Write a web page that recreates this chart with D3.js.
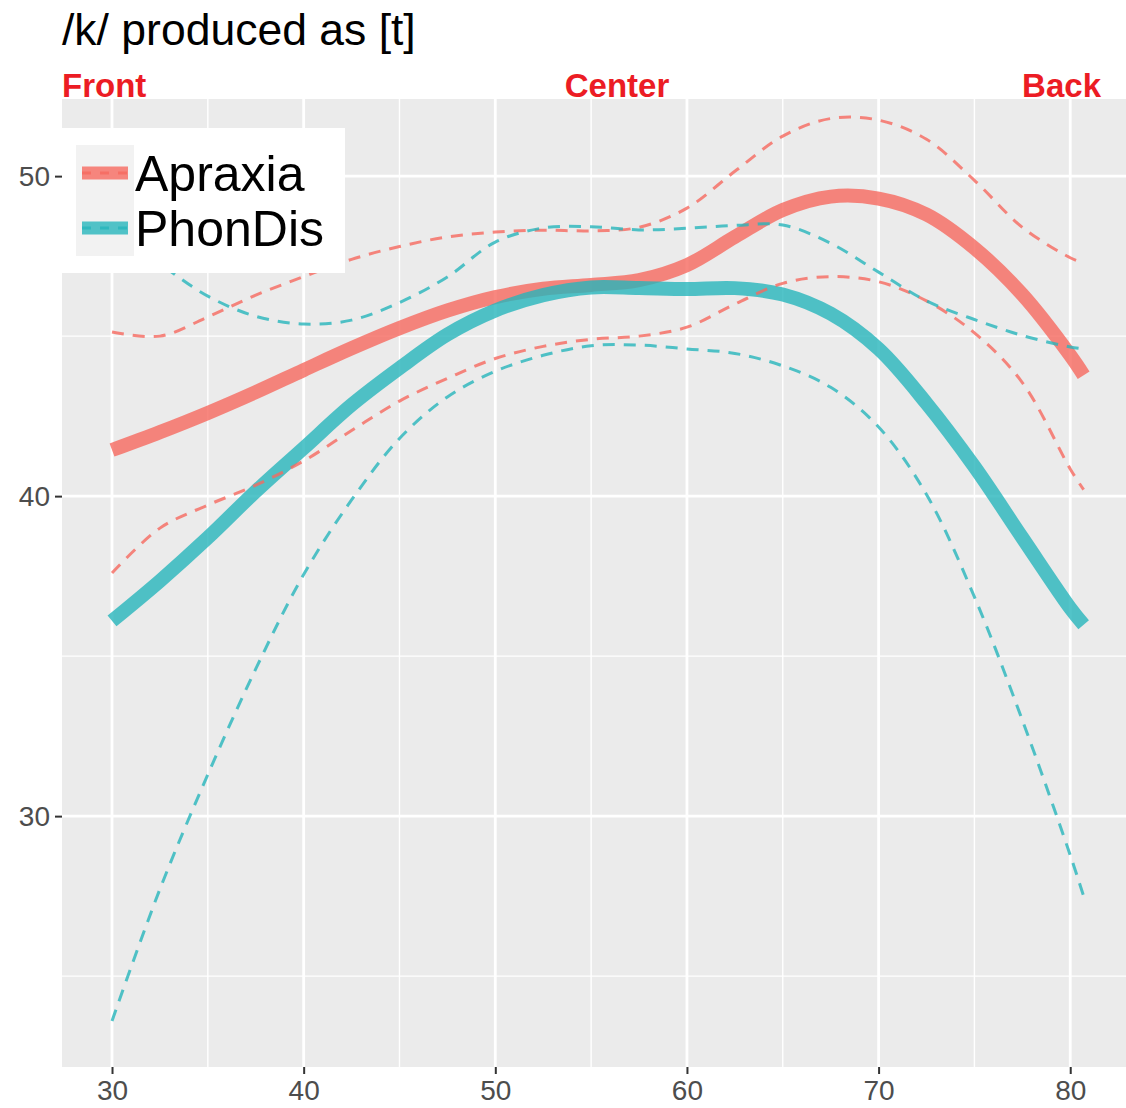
<!DOCTYPE html>
<html>
<head>
<meta charset="utf-8">
<script src="https://cdn.jsdelivr.net/npm/d3@7"></script>
<style>
  html, body { margin: 0; padding: 0; background: #ffffff; }
  svg { display: block; }
</style>
</head>
<body>
<svg id="chart" width="1126" height="1108"></svg>
<script>
// ---------- data ----------
const xs = [30, 32.5, 35, 37.5, 40, 42.5, 45, 47.5, 50, 52.5, 55, 57.5, 60, 62.5, 65, 67.5, 70, 72.5, 75, 77.5, 80, 80.7];

const apraxiaFit   = [41.44, 42.0, 42.6, 43.25, 43.94, 44.62, 45.25, 45.8, 46.22, 46.48, 46.6, 46.75, 47.22, 48.1, 48.94, 49.36, 49.3, 48.8, 47.75, 46.3, 44.4, 43.78];
const apraxiaUpper = [45.13, 45.0, 45.6, 46.28, 46.86, 47.4, 47.8, 48.1, 48.25, 48.31, 48.29, 48.4, 49.0, 50.15, 51.25, 51.8, 51.75, 51.15, 49.87, 48.4, 47.45, 47.28];
const apraxiaLower = [37.6, 39.0, 39.72, 40.34, 41.1, 42.05, 42.97, 43.68, 44.3, 44.68, 44.9, 45.0, 45.28, 46.0, 46.65, 46.86, 46.7, 46.1, 45.1, 43.55, 40.85, 40.2];

const phonFit   = [36.1, 37.35, 38.7, 40.15, 41.5, 42.85, 44.0, 45.05, 45.8, 46.28, 46.52, 46.5, 46.47, 46.5, 46.3, 45.7, 44.6, 42.9, 40.92, 38.7, 36.5, 35.98];
const phonUpper = [48.2, 47.25, 46.25, 45.62, 45.38, 45.5, 46.05, 46.85, 47.94, 48.38, 48.42, 48.32, 48.37, 48.46, 48.47, 47.9, 47.0, 46.1, 45.52, 45.02, 44.66, 44.6];
const phonLower = [23.6, 27.72, 31.3, 34.6, 37.55, 39.88, 41.8, 43.1, 43.9, 44.4, 44.7, 44.72, 44.6, 44.46, 44.07, 43.4, 42.16, 40.05, 36.85, 33.0, 28.78, 27.5];

const groups = ["Apraxia", "PhonDis"];
const groupColors = ["#F6695F", "#27B5BB"];
const xTicks = [30, 40, 50, 60, 70, 80];
const xMinor = [35, 45, 55, 65, 75];
const yTicks = [30, 40, 50];
const yMinor = [25, 35, 45];
const title = "/k/ produced as [t]";
const regionLabels = ["Front", "Center", "Back"];

// ---------- layout ----------
const svg = d3.select("#chart");
const panel = { left: 62, right: 1126, top: 99, bottom: 1067 };

const x = d3.scaleLinear().domain([27.39, 82.91]).range([panel.left, panel.right]);
const y = d3.scaleLinear().domain([22.16, 52.41]).range([panel.bottom, panel.top]);

// panel background
svg.append("rect")
  .attr("x", panel.left).attr("y", panel.top)
  .attr("width", panel.right - panel.left).attr("height", panel.bottom - panel.top)
  .attr("fill", "#EBEBEB");

// grid
const grid = svg.append("g");
grid.selectAll(".ymin").data(yMinor).join("line")
  .attr("x1", panel.left).attr("x2", panel.right)
  .attr("y1", d => y(d)).attr("y2", d => y(d))
  .attr("stroke", "#fff").attr("stroke-width", 1.4);
grid.selectAll(".xmin").data(xMinor).join("line")
  .attr("y1", panel.top).attr("y2", panel.bottom)
  .attr("x1", d => x(d)).attr("x2", d => x(d))
  .attr("stroke", "#fff").attr("stroke-width", 1.4);
grid.selectAll(".ymaj").data(yTicks).join("line")
  .attr("x1", panel.left).attr("x2", panel.right)
  .attr("y1", d => y(d)).attr("y2", d => y(d))
  .attr("stroke", "#fff").attr("stroke-width", 2.8);
grid.selectAll(".xmaj").data(xTicks).join("line")
  .attr("y1", panel.top).attr("y2", panel.bottom)
  .attr("x1", d => x(d)).attr("x2", d => x(d))
  .attr("stroke", "#fff").attr("stroke-width", 2.8);

// axes
const font = "'Liberation Sans', Arial, Helvetica, sans-serif";
const xAxis = svg.append("g")
  .attr("transform", `translate(0,${panel.bottom})`)
  .call(d3.axisBottom(x).tickValues(xTicks).tickSize(7).tickPadding(6).tickFormat(d3.format("d")));
xAxis.select(".domain").remove();
xAxis.selectAll("line").attr("stroke", "#333").attr("stroke-width", 2);
xAxis.selectAll("text").attr("fill", "#4D4D4D").attr("font-size", 28).attr("font-family", font);

const yAxis = svg.append("g")
  .attr("transform", `translate(${panel.left},0)`)
  .call(d3.axisLeft(y).tickValues(yTicks).tickSize(7).tickPadding(5).tickFormat(d3.format("d")));
yAxis.select(".domain").remove();
yAxis.selectAll("line").attr("stroke", "#333").attr("stroke-width", 2);
yAxis.selectAll("text").attr("fill", "#4D4D4D").attr("font-size", 28).attr("font-family", font);

// lines
const line = d3.line()
  .x(d => x(d[0])).y(d => y(d[1]))
  .curve(d3.curveCatmullRom.alpha(0.5));
const pts = arr => xs.map((v, i) => [v, arr[i]]);

const fits = [apraxiaFit, phonFit];
const bands = [[apraxiaUpper, apraxiaLower], [phonUpper, phonLower]];

const lines = svg.append("g");
fits.forEach((f, i) => {
  lines.append("path").attr("d", line(pts(f)))
    .attr("fill", "none").attr("stroke", groupColors[i])
    .attr("stroke-opacity", 0.8).attr("stroke-width", 14);
});
bands.forEach((b, i) => {
  b.forEach(arr => {
    lines.append("path").attr("d", line(pts(arr)))
      .attr("fill", "none").attr("stroke", groupColors[i])
      .attr("stroke-opacity", 0.8).attr("stroke-width", 3)
      .attr("stroke-dasharray", "12,9");
  });
});

// legend
const lg = svg.append("g");
lg.append("rect").attr("x", 62).attr("y", 128).attr("width", 283).attr("height", 145).attr("fill", "#fff");
lg.append("rect").attr("x", 76).attr("y", 145).attr("width", 58).attr("height", 111).attr("fill", "#F2F2F2");
groups.forEach((g, i) => {
  const yy = 173 + i * 55;
  lg.append("line").attr("x1", 82).attr("x2", 128).attr("y1", yy).attr("y2", yy)
    .attr("stroke", groupColors[i]).attr("stroke-opacity", 0.8).attr("stroke-width", 13);
  lg.append("line").attr("x1", 82).attr("x2", 128).attr("y1", yy).attr("y2", yy)
    .attr("stroke", groupColors[i]).attr("stroke-opacity", 0.8).attr("stroke-width", 3)
    .attr("stroke-dasharray", "9,9");
  lg.append("text").attr("x", 135).attr("y", yy + 18)
    .attr("font-family", font).attr("font-size", 50).attr("fill", "#000").text(g);
});

// title and region labels
svg.append("text").attr("x", 62).attr("y", 45)
  .attr("font-family", font).attr("font-size", 44.5).attr("fill", "#000").text(title);
const regionX = [62, 617, 1101];
const anchors = ["start", "middle", "end"];
regionLabels.forEach((t, i) => {
  svg.append("text").attr("x", regionX[i]).attr("y", 97)
    .attr("text-anchor", anchors[i])
    .attr("font-family", font).attr("font-weight", "bold").attr("font-size", 33)
    .attr("fill", "#EC1C24").text(t);
});
</script>
</body>
</html>
